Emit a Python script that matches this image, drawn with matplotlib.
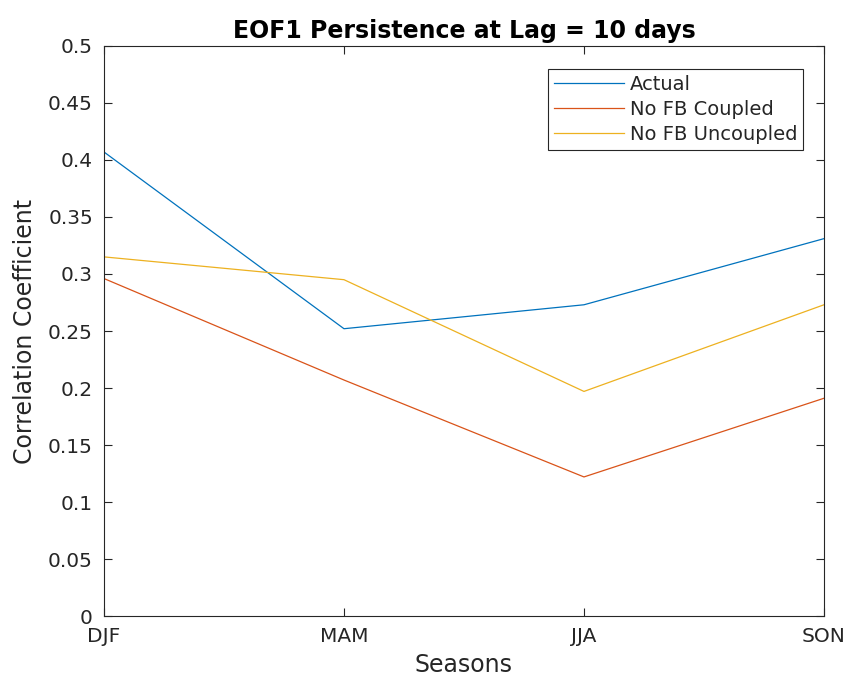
import matplotlib.pyplot as plt

seasons = ['DJF', 'MAM', 'JJA', 'SON']
actual = [0.407, 0.252, 0.273, 0.331]
no_fb_coupled = [0.296, 0.207, 0.122, 0.191]
no_fb_uncoupled = [0.315, 0.295, 0.197, 0.273]

yticks = [0, 0.05, 0.1, 0.15, 0.2, 0.25, 0.3, 0.35, 0.4, 0.45, 0.5]
ytick_labels = ['0', '0.05', '0.1', '0.15', '0.2', '0.25', '0.3', '0.35', '0.4', '0.45', '0.5']

axis_color = '#262626'

fig = plt.figure(figsize=(8.49, 6.81), dpi=100)
ax = fig.add_axes([0.1225, 0.0954, 0.848, 0.8371])

x = range(len(seasons))
ax.plot(x, actual, color='#0072BD', lw=0.9, label='Actual')
ax.plot(x, no_fb_coupled, color='#D95319', lw=0.9, label='No FB Coupled')
ax.plot(x, no_fb_uncoupled, color='#EDB120', lw=0.9, label='No FB Uncoupled')

ax.set_xlim(0, 3)
ax.set_ylim(0, 0.5)
ax.set_xticks(list(x))
ax.set_xticklabels(seasons)
ax.set_yticks(yticks)
ax.set_yticklabels(ytick_labels)

ax.tick_params(direction='in', length=6, width=0.8, colors=axis_color,
               labelsize=14.5, top=True, right=True)
ax.tick_params(axis='x', pad=8)
ax.tick_params(axis='y', pad=8)
for s in ax.spines.values():
    s.set_color(axis_color)
    s.set_linewidth(0.8)

ax.set_xlabel('Seasons', fontsize=17, color=axis_color, labelpad=5)
ax.set_ylabel('Correlation Coefficient', fontsize=17, color=axis_color, labelpad=8)
ax.set_title('EOF1 Persistence at Lag = 10 days', fontsize=17, fontweight='bold', pad=6)

leg = ax.legend(loc='upper right', bbox_to_anchor=(0.971, 0.96), borderaxespad=0,
                fontsize=14, handlelength=3.6, handletextpad=0.3, borderpad=0.3,
                labelspacing=0.32, fancybox=False, framealpha=1)
leg.get_frame().set_edgecolor(axis_color)
leg.get_frame().set_linewidth(0.8)
for t in leg.get_texts():
    t.set_color(axis_color)

fig.savefig('out.png', dpi=100)
